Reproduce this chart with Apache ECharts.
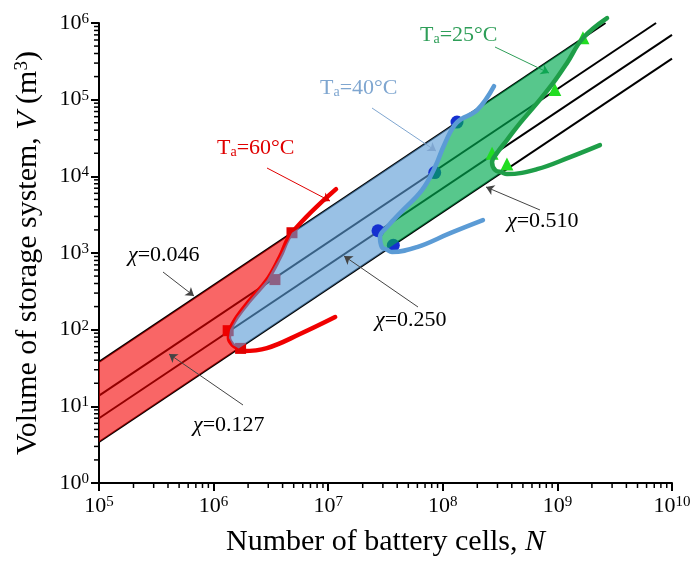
<!DOCTYPE html>
<html><head><meta charset="utf-8">
<script src="https://cdn.jsdelivr.net/npm/echarts@6/dist/echarts.min.js"></script>
<style>html,body{margin:0;padding:0;background:#fff}#c{width:694px;height:574px}</style>
</head><body><div id="c"></div>
<script>
const FONT = '"Liberation Serif","Times New Roman",serif';

// axis ticks (decade exponents) and minor mantissas
const xTickExps = [5, 6, 7, 8, 9, 10];
const yTickExps = [0, 1, 2, 3, 4, 5, 6];
const minorMantissas = [2, 3, 4, 5, 6, 7, 8, 9];
const xDecades = [1e5, 1e6, 1e7, 1e8, 1e9];
const yDecades = [1e0, 1e1, 1e2, 1e3, 1e4, 1e5];

// constant-chi lines (start and end points)
const chiLabels = ['0.046', '0.127', '0.250', '0.510'];
const lineStartN = [1e5, 1e5, 1e5, 1e5];
const lineStartV = [38, 13.8, 7.0, 3.43];
const lineEndN = [2.63e9, 7.26e9, 1e10, 1e10];
const lineEndV = [1e6, 1e6, 7.0e5, 3.43e5];

// temperature curves [N, V]
const curve60 = [[1.17e7, 6810], [4.83e6, 1838], [3.79e6, 885], [2.92e6, 443], [2.08e6, 243],
  [1.60e6, 146], [1.39e6, 98.8], [1.36e6, 77.6], [1.47e6, 63], [1.656e6, 56.8], [1.81e6, 52.6],
  [2.92e6, 57.5], [5.67e6, 87.7], [1.15e7, 146]];
const curve40 = [[2.80e8, 1.50e5], [1.99e8, 7.3e4], [1.33e8, 5.06e4], [1.045e8, 2.71e4], [8.55e7, 1.32e4],
  [6.58e7, 6607], [4.49e7, 3625], [3.26e7, 2177], [2.83e7, 1611], [2.94e7, 1194], [3.24e7, 1111],
  [3.60e7, 1028], [5.96e7, 1194], [1.16e8, 1817], [2.24e8, 2685]];
const curve25 = [[2.71e9, 1.16e6], [1.67e9, 6.35e5], [1.21e9, 2.99e5], [9.16e8, 1.64e5], [6.64e8, 9.0e4],
  [4.72e8, 4.94e4], [3.63e8, 2.97e4], [2.97e8, 2.01e4], [2.69e8, 1.53e4], [2.86e8, 1.21e4],
  [3.28e8, 1.126e4], [3.63e8, 1.07e4], [6.64e8, 1.24e4], [1.29e9, 1.78e4], [2.35e9, 2.55e4]];
// index range of each curve lying between chi=0.046 and chi=0.510
const band60 = [1, 9];
const band40 = [2, 10];
const band25 = [1, 10];

// markers
const markers60 = [[4.83e6, 1838], [3.43e6, 450], [1.34e6, 97], [1.72e6, 57]];
const markers40 = [[1.33e8, 5.1e4], [8.5e7, 1.12e4], [2.72e7, 1950], [3.7e7, 1260]];
const markers25 = [[1.67e9, 6.4e5], [9.5e8, 1.36e5], [2.69e8, 2.0e4], [3.63e8, 1.45e4]];

const seg = (c, b) => c.slice(b[0], b[1] + 1);
const polyRed = [[lineStartN[0], lineStartV[0]]].concat(seg(curve60, band60), [[lineStartN[3], lineStartV[3]]]);
const polyBlue = seg(curve60, band60).concat(seg(curve40, band40).reverse());
const polyGreen = seg(curve40, band40).concat(seg(curve25, band25).reverse());

const minorX = [], minorY = [];
xDecades.forEach(d => minorMantissas.forEach(m => minorX.push(m * d)));
yDecades.forEach(d => minorMantissas.forEach(m => minorY.push(m * d)));

const chart = echarts.init(document.getElementById('c'));

function polySeries(points, color, z) {
  return {
    type: 'custom', z: z, silent: true, data: [[points[0][0], points[0][1]]],
    renderItem: (p, api) => ({
      type: 'polygon',
      shape: { points: points.map(pt => api.coord(pt)) },
      style: { fill: color, stroke: null }
    })
  };
}
function curveSeries(data, color, z) {
  return { type: 'line', data: data, z: z, smooth: 0.4, symbol: 'none', clip: false, silent: true,
    lineStyle: { color: color, width: 4.5, cap: 'round' } };
}
function markerSeries(data, symbol, size, color, z) {
  return { type: 'scatter', data: data, z: z, symbol: symbol, symbolSize: size, silent: true,
    itemStyle: { color: color, opacity: 1 } };
}
const tickLabel = v => '{b|10}{s|' + Math.round(Math.log10(v)) + '}';
const tickRich = {
  b: { fontFamily: FONT, fontSize: 22, color: '#000' },
  s: { fontFamily: FONT, fontSize: 15, color: '#000', verticalAlign: 'top', padding: [0, 0, 8, 0] }
};

const series = [];
chiLabels.forEach((c, i) => {
  series.push({ type: 'line', z: 1, symbol: 'none', silent: true,
    data: [[lineStartN[i], lineStartV[i]], [lineEndN[i], lineEndV[i]]],
    lineStyle: { color: '#000', width: 2 } });
});
series.push(curveSeries(curve60, '#F00000', 2));
series.push(markerSeries(markers60, 'rect', 11, '#E00000', 2));
series.push(polySeries(polyRed, 'rgba(245,0,0,0.6)', 3));
series.push(polySeries(polyBlue, 'rgba(91,155,213,0.62)', 4));
series.push(markerSeries(markers40, 'circle', 13, '#1530D0', 5));
series.push(polySeries(polyGreen, 'rgba(0,170,80,0.66)', 6));
series.push(curveSeries(curve40, '#5B9BD5', 7));
series.push(markerSeries(markers25, 'triangle', 13, '#22DD22', 8));
series.push(curveSeries(curve25, '#1E9E48', 9));
// minor ticks
series.push({ type: 'custom', z: 10, silent: true, data: minorX.map(v => [v, 1]),
  renderItem: (p, api) => { const c = api.coord([api.value(0), api.value(1)]);
    return { type: 'line', shape: { x1: c[0], y1: c[1], x2: c[0], y2: c[1] + 5 }, style: { stroke: '#000', lineWidth: 1.5 } }; } });
series.push({ type: 'custom', z: 10, silent: true, data: minorY.map(v => [1e5, v]),
  renderItem: (p, api) => { const c = api.coord([api.value(0), api.value(1)]);
    return { type: 'line', shape: { x1: c[0], y1: c[1], x2: c[0] - 5, y2: c[1] }, style: { stroke: '#000', lineWidth: 1.5 } }; } });
// annotation arrows
const arrow = (x1, y1, x2, y2, color) => [{ x: x1, y: y1, lineStyle: { color: color } }, { x: x2, y: y2 }];
series.push({ type: 'line', data: [], z: 11, silent: true,
  markLine: { silent: true, symbol: ['none', 'arrow'], symbolSize: 8, animation: false,
    label: { show: false }, lineStyle: { type: 'solid', width: 1 },
    data: [
      arrow(163, 272, 194, 296, '#444'),
      arrow(243, 405, 169, 354, '#444'),
      arrow(418, 307, 344, 256, '#444'),
      arrow(540, 210, 486, 187, '#444'),
      arrow(267, 168, 330, 201, '#E00000'),
      arrow(372, 108, 436, 151, '#7FA6D0'),
      arrow(495, 47, 549, 73, '#2E9E58')
    ] } });

const chiRich = { i: { fontFamily: FONT, fontSize: 22, fontStyle: 'italic', fill: '#000' },
  n: { fontFamily: FONT, fontSize: 22, fill: '#000' } };
const tRich = c => ({ t: { fontFamily: FONT, fontSize: 22, fill: c },
  a: { fontFamily: FONT, fontSize: 14, fill: c, verticalAlign: 'bottom', padding: [8, 0, 0, 0] } });
const txt = (x, y, text, rich) => ({ type: 'text', left: x, top: y, z: 20,
  style: { text: text, rich: rich, font: '22px ' + FONT } });

chart.setOption({
  animation: false,
  backgroundColor: '#fff',
  grid: { left: 99, right: 22, top: 23, bottom: 91, containLabel: false, outerBoundsMode: 'none' },
  xAxis: {
    type: 'log', logBase: 10, min: 1e5, max: 1e10, splitNumber: 5,
    name: 'Number of battery cells, {i|N}', nameLocation: 'middle', nameGap: 44,
    nameTextStyle: { fontFamily: FONT, fontSize: 30, color: '#000',
      rich: { i: { fontFamily: FONT, fontSize: 30, fontStyle: 'italic', color: '#000' } } },
    axisLine: { lineStyle: { color: '#000', width: 2 } },
    axisTick: { length: 8, lineStyle: { color: '#000', width: 2 } },
    splitLine: { show: false },
    axisLabel: { formatter: tickLabel, rich: tickRich, margin: 12, showMaxLabel: true, showMinLabel: true }
  },
  yAxis: {
    type: 'log', logBase: 10, min: 1, max: 1e6, splitNumber: 6,
    name: 'Volume of storage system, {i|V} (m{s|3})', nameLocation: 'middle', nameGap: 56,
    nameTextStyle: { fontFamily: FONT, fontSize: 30, color: '#000',
      rich: { i: { fontFamily: FONT, fontSize: 30, fontStyle: 'italic', color: '#000' },
        s: { fontFamily: FONT, fontSize: 19, color: '#000', verticalAlign: 'top', padding: [0, 0, 10, 0] } } },
    axisLine: { lineStyle: { color: '#000', width: 2 } },
    axisTick: { length: 8, lineStyle: { color: '#000', width: 2 } },
    splitLine: { show: false },
    axisLabel: { formatter: tickLabel, rich: tickRich, margin: 10, showMaxLabel: true, showMinLabel: true }
  },
  graphic: [
    txt(128, 244, '{i|χ}{n|=0.046}', chiRich),
    txt(193, 414, '{i|χ}{n|=0.127}', chiRich),
    txt(375, 309, '{i|χ}{n|=0.250}', chiRich),
    txt(507, 210, '{i|χ}{n|=0.510}', chiRich),
    txt(217, 137, '{t|T}{a|a}{t|=60°C}', tRich('#E00000')),
    txt(320, 77, '{t|T}{a|a}{t|=40°C}', tRich('#7FA6D0')),
    txt(420, 24, '{t|T}{a|a}{t|=25°C}', tRich('#2E9E58'))
  ],
  series: series
});
</script></body></html>
